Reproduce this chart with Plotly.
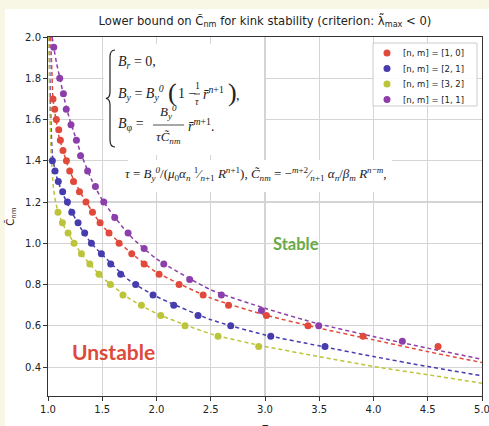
import plotly.graph_objects as go

# ---------------- data ----------------
tau_10 = [1.046, 1.062, 1.077, 1.099, 1.114, 1.138, 1.17, 1.20, 1.235, 1.29, 1.35, 1.41, 1.48,
          1.562, 1.655, 1.772, 1.886, 2.024, 2.208, 2.43, 2.664, 3.013, 3.396, 3.904, 4.595]
C_10 = [1.70, 1.65, 1.60, 1.55, 1.50, 1.45, 1.40, 1.35, 1.30, 1.25, 1.20, 1.15, 1.10,
        1.05, 1.00, 0.95, 0.90, 0.85, 0.80, 0.75, 0.70, 0.65, 0.60, 0.55, 0.50]

tau_21 = [1.04, 1.065, 1.095, 1.135, 1.179, 1.219, 1.277, 1.338, 1.40, 1.492, 1.578, 1.67,
          1.808, 1.968, 2.159, 2.383, 2.684, 3.053, 3.553]
C_21 = [1.40, 1.35, 1.30, 1.25, 1.20, 1.15, 1.10, 1.05, 1.00, 0.95, 0.90, 0.85,
        0.80, 0.75, 0.70, 0.65, 0.60, 0.55, 0.50]

tau_32 = [1.092, 1.133, 1.185, 1.24, 1.308, 1.385, 1.47, 1.575, 1.691, 1.861, 2.039, 2.263, 2.567, 2.942]
C_32 = [1.15, 1.10, 1.05, 1.00, 0.95, 0.90, 0.85, 0.80, 0.75, 0.70, 0.65, 0.60, 0.55, 0.50]

tau_11 = [1.053, 1.108, 1.142, 1.168, 1.212, 1.262, 1.30, 1.365, 1.437, 1.514, 1.615, 1.738,
          1.886, 2.067, 2.306, 2.598, 2.967, 3.495, 4.266]
C_11 = [1.95, 1.80, 1.725, 1.65, 1.575, 1.50, 1.425, 1.35, 1.275, 1.20, 1.125, 1.05,
        0.975, 0.90, 0.825, 0.75, 0.675, 0.60, 0.525]

# dashed fitted curves
fit_tau_10 = [1.025, 1.035, 1.046, 1.07, 1.1, 1.15, 1.2, 1.3, 1.4, 1.5, 1.75, 2.0, 2.5, 3.0, 3.5, 4.0, 4.5, 5.0]
fit_C_10 = [2.0, 1.84, 1.70, 1.61, 1.52, 1.43, 1.35, 1.245, 1.16, 1.085, 0.96, 0.86, 0.735, 0.653, 0.589, 0.532, 0.475, 0.422]

fit_tau_21 = [1.012, 1.02, 1.03, 1.04, 1.07, 1.1, 1.15, 1.2, 1.3, 1.4, 1.5, 1.75, 2.0, 2.5, 3.0, 3.5, 4.0, 4.5, 5.0]
fit_C_21 = [2.0, 1.72, 1.54, 1.43, 1.34, 1.29, 1.225, 1.17, 1.075, 1.0, 0.945, 0.82, 0.742, 0.63, 0.556, 0.503, 0.451, 0.403, 0.358]

fit_tau_32 = [1.008, 1.015, 1.03, 1.05, 1.07, 1.1, 1.15, 1.2, 1.3, 1.4, 1.5, 1.75, 2.0, 2.5, 3.0, 3.5, 4.0, 4.5, 5.0]
fit_C_32 = [2.0, 1.70, 1.42, 1.27, 1.2, 1.14, 1.08, 1.035, 0.955, 0.89, 0.835, 0.732, 0.66, 0.561, 0.50, 0.451, 0.403, 0.363, 0.322]

fit_tau_11 = [1.038, 1.053, 1.08, 1.11, 1.15, 1.2, 1.25, 1.3, 1.4, 1.5, 1.75, 2.0, 2.5, 3.0, 3.5, 4.0, 4.5, 5.0]
fit_C_11 = [2.0, 1.95, 1.87, 1.80, 1.70, 1.60, 1.52, 1.44, 1.31, 1.21, 1.04, 0.925, 0.775, 0.685, 0.609, 0.548, 0.492, 0.438]

labels = ["[n, m] = [1, 0]", "[n, m] = [2, 1]", "[n, m] = [3, 2]", "[n, m] = [1, 1]"]
x_ticks = [1.0, 1.5, 2.0, 2.5, 3.0, 3.5, 4.0, 4.5, 5.0]
y_ticks = [0.4, 0.6, 0.8, 1.0, 1.2, 1.4, 1.6, 1.8, 2.0]

colors = ["#e1493a", "#473cae", "#bcc43a", "#8c3fab"]

# ---------------- layout geometry ----------------
W, H = 489, 426
ML, MR, MT, MB = 48, 7, 37, 30
PW, PH = W - ML - MR, H - MT - MB


def px(x):
    return (x - ML) / PW


def py(y):
    return 1 - (y - MT) / PH


fig = go.Figure()

series = [(tau_10, C_10, fit_tau_10, fit_C_10),
          (tau_21, C_21, fit_tau_21, fit_C_21),
          (tau_32, C_32, fit_tau_32, fit_C_32),
          (tau_11, C_11, fit_tau_11, fit_C_11)]

for (t_, c, ft, fc), col in zip(series, colors):
    fig.add_trace(go.Scatter(x=ft, y=fc, mode="lines", showlegend=False,
                             line=dict(color=col, width=1.5, dash="4px,3px", shape="spline", smoothing=0.6),
                             hoverinfo="skip"))

for (t_, c, ft, fc), col, lab in zip(series, colors, labels):
    fig.add_trace(go.Scatter(x=t_, y=c, mode="markers", name=lab, showlegend=False,
                             marker=dict(color=col, size=7, line=dict(width=0))))

serif = "Liberation Serif"
sans = "DejaVu Sans"

shapes = [
    # white panel on the beige page
    dict(type="rect", xref="paper", yref="paper", x0=px(5), x1=px(495), y0=py(9), y1=py(432),
         fillcolor="white", line=dict(width=0), layer="below"),
    # white boxes behind the equations
    dict(type="rect", xref="paper", yref="paper", x0=px(104), x1=px(264), y0=py(44), y1=py(155),
         fillcolor="white", line=dict(width=0), layer="above"),
    dict(type="rect", xref="paper", yref="paper", x0=px(128), x1=px(392), y0=py(160), y1=py(192),
         fillcolor="white", line=dict(width=0), layer="above"),
]

# brace
pts = [(115, 50), (110, 50), (110, 57), (110, 92), (110, 98), (106, 98.5), (110, 99), (110, 105),
       (110, 140), (110, 147), (115, 147)]
P = [(px(a), py(b)) for a, b in pts]
path = ("M {0[0]},{0[1]} Q {1[0]},{1[1]} {2[0]},{2[1]} L {3[0]},{3[1]} Q {4[0]},{4[1]} {5[0]},{5[1]} "
        "Q {6[0]},{6[1]} {7[0]},{7[1]} L {8[0]},{8[1]} Q {9[0]},{9[1]} {10[0]},{10[1]}").format(*P)
shapes.append(dict(type="path", xref="paper", yref="paper", path=path, line=dict(color="#222", width=1.2),
                   layer="above"))
# fraction bars
shapes.append(dict(type="line", xref="paper", yref="paper", x0=px(194), x1=px(200), y0=py(94), y1=py(94),
                   line=dict(color="#222", width=0.8), layer="above"))
shapes.append(dict(type="line", xref="paper", yref="paper", x0=px(153), x1=px(184), y0=py(125), y1=py(125),
                   line=dict(color="#222", width=0.8), layer="above"))

# legend box (drawn by hand so the rows can be as tight as in the reference)
shapes.append(dict(type="rect", xref="paper", yref="paper", x0=px(373), x1=px(477), y0=py(43), y1=py(106),
                   fillcolor="rgba(255,255,255,0.9)", line=dict(color="#cccccc", width=1), layer="above"))
leg_rows = [53, 68.5, 84, 99.5]
for yy, col in zip(leg_rows, colors):
    shapes.append(dict(type="circle", xref="paper", yref="paper",
                       x0=px(387 - 3.5), x1=px(387 + 3.5), y0=py(yy - 3.5), y1=py(yy + 3.5),
                       fillcolor=col, line=dict(width=0), layer="above"))

ann = []


def t(x, y, s, size=14, family=serif, color="#222", xanchor="left", **kw):
    ann.append(dict(x=px(x), y=py(y), xref="paper", yref="paper", text=s, showarrow=False,
                    xanchor=xanchor, yanchor="middle", font=dict(size=size, family=family, color=color), **kw))


for yy, lab in zip(leg_rows, labels):
    t(401, yy, lab, size=8.5, family=sans)

# equation block 1
t(116, 62, "<i>B<sub>r</sub></i> = 0,")
t(116, 93, "<i>B<sub>y</sub></i> = <i>B<sub>y</sub><sup>0</sup></i>")
t(166, 92, "(", size=26)
t(176, 93, "1 −")
t(197, 86, "1", size=10, xanchor="center")
t(197, 102, "<i>τ</i>", size=10, xanchor="center")
t(201, 93, "<i>r̄</i><sup><i>n</i>+1</sup>")
t(226, 92, ")", size=26)
t(234, 95, ",")
t(116, 125, "<i>B</i><sub>φ</sub> =")
t(168, 112, "<i>B<sub>y</sub><sup>0</sup></i>", size=13, xanchor="center")
t(168, 137, "<i>τC̃<sub>nm</sub></i>", size=13, xanchor="center")
t(186, 125, "<i>r̄</i><sup><i>m</i>+1</sup>.")

# equation 2
t(256, 174, "<i>τ</i> = <i>B<sub>y</sub><sup>0</sup></i>/(<i>μ</i><sub>0</sub><i>α<sub>n</sub></i> "
            "<sup>1</sup>⁄<sub><i>n</i>+1</sub> <i>R</i><sup><i>n</i>+1</sup>), "
            "<i>C̃<sub>nm</sub></i> = −<sup><i>m</i>+2</sup>⁄<sub><i>n</i>+1</sub> "
            "<i>α<sub>n</sub></i>/<i>β<sub>m</sub></i> <i>R</i><sup><i>n</i>−<i>m</i></sup>,",
  size=13, xanchor="center")

# region labels
t(296, 244, "<b>Stable</b>", size=16.5, family="Lato", color="#6aaa48", xanchor="center")
t(113, 351, "<b>Unstable</b>", size=21, family="Lato", color="#dc4a3b", xanchor="center")

# x-axis title (sits at the very bottom edge, mostly cut off as in the reference)
t(265, 427, "τ", size=11, family=sans, xanchor="center")

fig.update_layout(
    width=W, height=H,
    margin=dict(l=ML, r=MR, t=MT, b=MB, autoexpand=False),
    paper_bgcolor="#f8f6e5",
    plot_bgcolor="white",
    font=dict(family=sans, size=10, color="#222"),
    title=dict(text="Lower bound on C̃<sub>nm</sub> for kink stability (criterion: λ̃<sub>max</sub> &lt; 0)",
               x=(ML + PW / 2) / W, xanchor="center", y=1 - 21 / H, yanchor="middle",
               font=dict(size=11.6, family=sans, color="#222")),
    xaxis=dict(range=[1.0, 5.0], tickvals=x_ticks, ticktext=[f"{v:.1f}" for v in x_ticks],
               showgrid=True, gridcolor="#d4d4d4", gridwidth=1.2, zeroline=False,
               showline=True, linecolor="#333", linewidth=1, mirror=True,
               ticks="outside", ticklen=4, tickcolor="#333", ticklabeloverflow="allow"),
    yaxis=dict(range=[0.26, 2.0], tickvals=y_ticks, ticktext=[f"{v:.1f}" for v in y_ticks],
               showgrid=True, gridcolor="#d4d4d4", gridwidth=1.2, zeroline=False,
               showline=True, linecolor="#333", linewidth=1, mirror=True,
               ticks="outside", ticklen=4, tickcolor="#333",
               title=dict(text="C̃<sub>nm</sub>", standoff=8, font=dict(size=10))),
    shapes=shapes,
    annotations=ann,
    showlegend=False,
)

fig.write_html("out.html", config={"displayModeBar": False, "staticPlot": True},
               post_script="document.body.style.margin='0';document.body.style.overflow='hidden';")
